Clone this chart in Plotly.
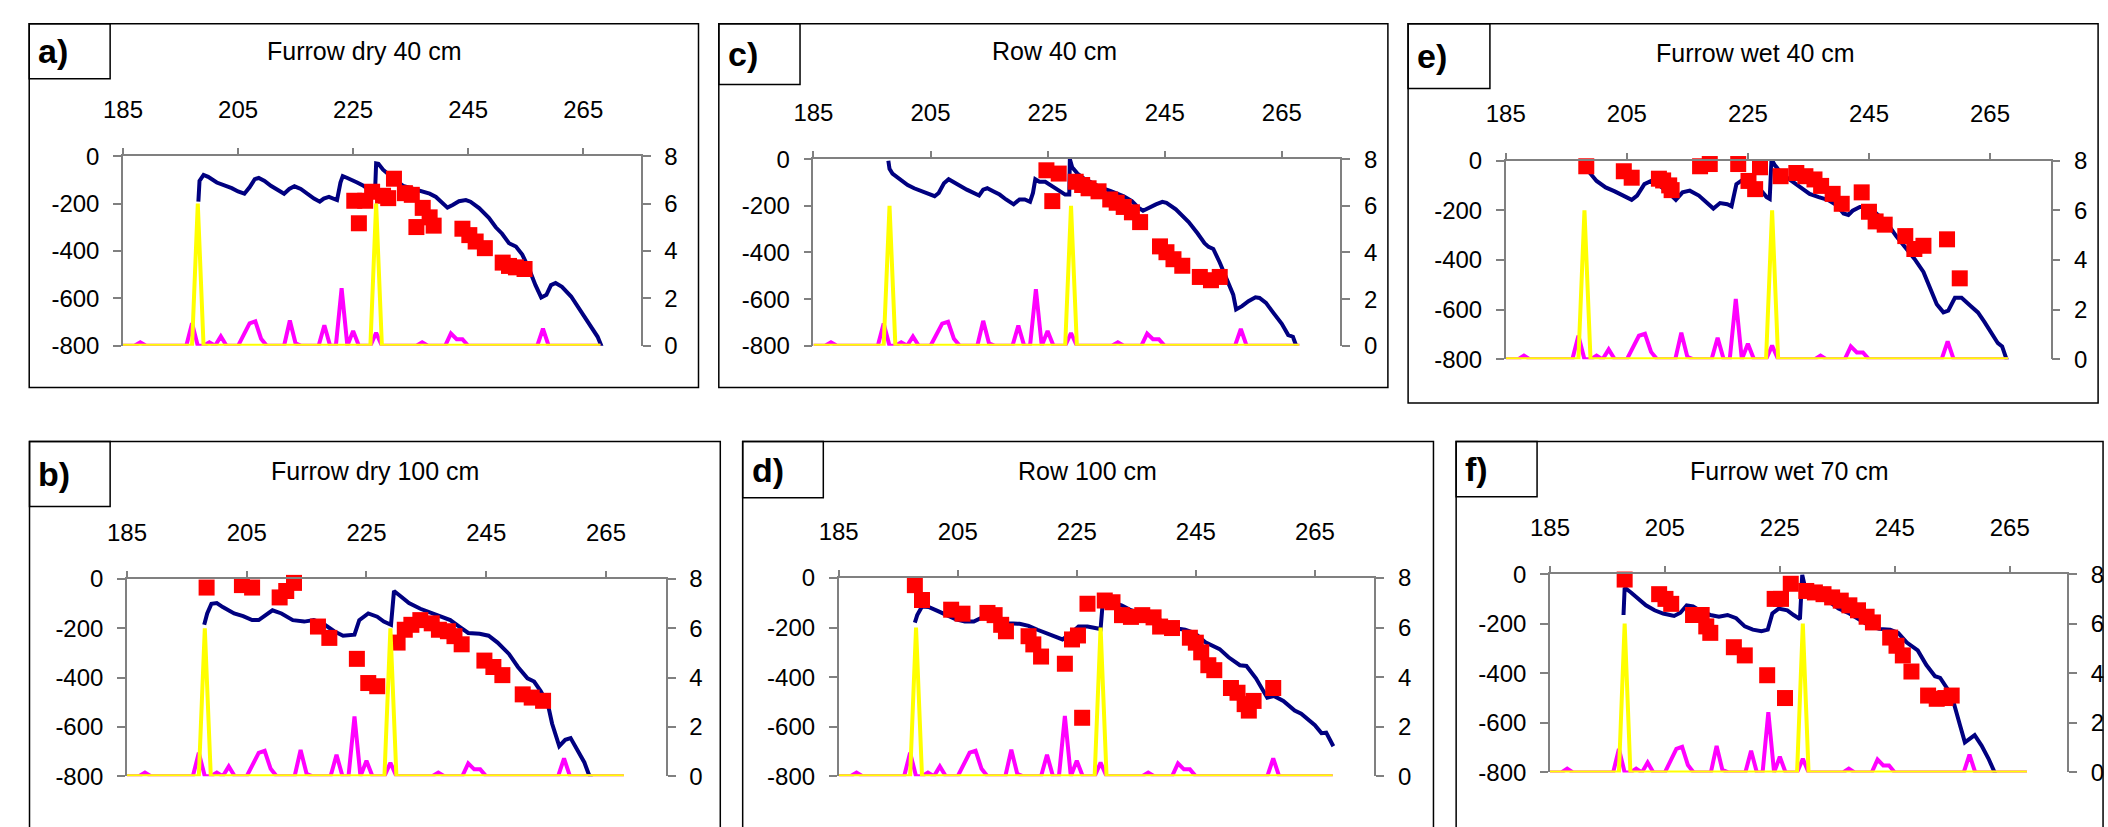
import plotly.graph_objects as go

W, H = 2108, 827

# ---------------- shared weather series (right axis, 0-8) ----------------
rain_day = [185, 187, 188, 189, 196, 197, 198, 199, 200, 201, 202, 203, 205, 206, 207, 208, 209, 210,
            213, 214, 215, 216, 219, 220, 221, 222, 223, 224, 225, 226, 228, 229, 230, 236, 237, 238,
            241, 242, 243, 244, 245, 257, 258, 259, 268]
rain_val = [0, 0, 0.15, 0, 0, 0.95, 0, 0, 0.15, 0, 0.4, 0, 0, 0.5, 0.95, 1.03, 0.3, 0,
            0, 1.07, 0.1, 0, 0, 0.87, 0, 0, 2.43, 0, 0.63, 0, 0, 0.55, 0, 0, 0.15, 0,
            0, 0.52, 0.28, 0.28, 0, 0, 0.72, 0, 0]
irr_day = [185, 197, 198, 199, 228, 229, 230, 268]
irr_val = [0, 0, 6, 0, 0, 6, 0, 0]

x_ticks = [185, 205, 225, 245, 265]
left_ticks = [-800, -600, -400, -200, 0]
left_tick_text = ["-800", "-600", "-400", "-200", "0"]
right_ticks = [0, 2, 4, 6, 8]

# ---------------- panel a: Furrow dry 40 cm ----------------
a_line_day = [198.1, 198.3, 199.0, 199.8, 201.3, 202.1, 203.9, 205.0, 206.1, 207.0, 207.9, 208.6, 209.6,
              210.7, 211.9, 213.0, 213.9, 214.8, 215.9, 217.0, 218.2, 219.2, 219.9, 220.8, 221.6, 222.2,
              222.8, 223.2, 223.9, 224.8, 225.7, 226.8, 227.9, 228.8, 229.0, 229.4, 230.2, 231.4, 232.5,
              233.7, 235.4, 237.1, 238.3, 239.4, 240.6, 241.4, 242.3, 243.4, 244.6, 245.4, 246.9, 248.6,
              249.8, 250.9, 252.1, 253.3, 254.4, 255.6, 256.7, 257.7, 258.6, 259.4, 260.2, 261.3, 262.9,
              264.0, 265.6, 266.7, 267.5, 268.2]
a_line_val = [-192, -104, -79, -87, -111, -118, -135, -149, -158, -131, -97, -92, -104,
              -125, -141, -158, -138, -127, -138, -158, -179, -192, -179, -172, -179, -185,
              -111, -84, -91, -100, -111, -125, -145, -158, -30, -32, -57, -84, -104,
              -125, -138, -149, -158, -172, -199, -217, -206, -190, -185, -192, -219, -260,
              -300, -327, -367, -381, -415, -476, -544, -596, -585, -544, -535, -551, -592,
              -633, -687, -728, -762, -803]
a_obs_day = [225.2, 226.0, 227.1, 228.3, 230.2, 231.1, 232.1, 234.0, 235.2, 237.1, 238.3, 236.0, 239.0,
             244.0, 245.2, 246.3, 247.9, 251.0, 252.1, 253.3, 254.8]
a_obs_val = [-188, -283, -188, -150, -167, -177, -95, -156, -163, -218, -258, -299, -293,
             -306, -333, -360, -388, -449, -463, -469, -476]

# ---------------- panel c: Row 40 cm ----------------
c_line_day = [197.8, 198.0, 198.5, 199.9, 201.1, 202.2, 203.6, 204.7, 205.7, 206.4, 207.3, 208.1, 209.0,
              210.1, 211.2, 212.6, 213.3, 214.0, 214.7, 215.7, 216.8, 217.9, 219.2, 220.2, 221.1, 222.0,
              222.5, 222.9, 223.6, 224.6, 225.8, 227.0, 228.0, 228.7, 228.8, 229.2, 230.1, 231.2, 232.6,
              234.3, 235.7, 236.8, 238.0, 239.4, 240.5, 241.3, 242.2, 243.5, 244.6, 245.3, 246.9, 249.1,
              250.6, 251.8, 252.5, 253.3, 254.4, 255.5, 256.7, 257.2, 258.2, 259.3, 260.5, 261.2, 262.3,
              263.5, 265.0, 266.1, 266.9, 267.5, 268.0]
c_line_val = [-7, -42, -62, -90, -111, -125, -138, -149, -159, -145, -104, -86, -97,
              -115, -131, -149, -156, -131, -125, -138, -152, -173, -194, -173, -173, -183,
              -145, -86, -97, -97, -118, -138, -152, -152, 0, -35, -62, -83, -104,
              -125, -136, -145, -159, -180, -208, -221, -208, -194, -183, -187, -215, -270,
              -318, -360, -376, -385, -443, -512, -581, -644, -630, -609, -592, -595, -616,
              -657, -706, -754, -761, -803, -830]
c_obs_day = [224.8, 226.9, 225.8, 229.8, 230.9, 232.0, 233.7, 235.7, 236.8, 238.0, 239.4, 240.8,
             244.2, 245.3, 246.5, 248.0, 251.0, 252.9, 254.4]
c_obs_val = [-48, -62, -180, -97, -111, -125, -138, -173, -187, -205, -228, -270,
             -374, -399, -429, -457, -505, -519, -505]

# ---------------- panel e: Furrow wet 40 cm ----------------
e_line_day = [197.9, 198.9, 200.0, 201.5, 203.0, 204.5, 205.8, 206.7, 207.9, 209.0, 210.5, 212.0, 213.1,
              214.2, 215.4, 216.9, 218.0, 219.3, 220.4, 221.6, 222.3, 223.1, 224.0, 225.5, 227.0, 228.1,
              228.6, 228.9, 229.4, 230.7, 232.2, 233.7, 235.2, 236.7, 238.2, 239.7, 240.8, 241.6, 242.3,
              243.5, 245.0, 246.5, 248.0, 249.5, 251.0, 252.5, 254.0, 255.1, 256.2, 257.3, 258.1, 259.2,
              260.3, 261.8, 263.0, 264.1, 265.2, 266.3, 267.0, 267.8, 268.2]
e_line_val = [5, -50, -82, -108, -124, -141, -158, -141, -95, -82, -102, -132, -158,
              -128, -121, -141, -167, -193, -171, -176, -184, -95, -80, -89, -115, -147,
              -154, 5, -17, -56, -82, -108, -134, -147, -158, -180, -213, -219, -202,
              -187, -187, -219, -252, -304, -350, -395, -448, -513, -578, -611, -604, -552,
              -552, -585, -611, -650, -689, -735, -748, -800, -833]
e_obs_day = [198.3, 204.5, 205.8, 210.3, 212.4, 217.1, 218.7, 223.4, 225.1, 226.2, 227.0, 230.4, 233.0,
             234.5, 236.0, 237.1, 239.0, 240.5, 243.8, 245.0, 246.1, 247.6, 251.0, 252.5, 254.0, 257.9,
             260.0, 211.0, 212.0]
e_obs_val = [-23, -43, -69, -73, -119, -23, -14, -14, -82, -115, -27, -63, -50,
             -63, -76, -102, -134, -174, -128, -206, -245, -258, -304, -356, -343, -317,
             -474, -80, -100]

# ---------------- panel b: Furrow dry 100 cm ----------------
b_line_day = [197.9, 198.4, 199.1, 200.0, 201.0, 202.9, 204.4, 205.9, 207.0, 208.2, 209.3, 210.8, 212.7,
              214.6, 216.2, 217.7, 219.6, 221.1, 223.0, 223.8, 225.3, 226.8, 227.9, 229.1, 229.6, 230.6,
              232.1, 234.0, 235.9, 237.4, 239.0, 240.5, 242.0, 243.9, 245.4, 246.9, 248.8, 250.3, 251.9,
              253.0, 254.1, 255.3, 256.0, 257.2, 258.2, 259.1, 260.2, 261.4, 262.1, 263.0]
b_line_val = [-186, -140, -101, -98, -114, -140, -151, -167, -167, -147, -127, -140, -167,
              -173, -167, -180, -212, -230, -226, -167, -140, -153, -173, -186, -49, -68,
              -98, -121, -140, -153, -167, -193, -219, -222, -230, -258, -304, -357, -403,
              -416, -455, -508, -586, -678, -652, -645, -691, -744, -790, -822]
b_obs_day = [198.3, 204.2, 205.9, 210.5, 211.6, 212.9, 216.9, 218.8, 223.4, 225.3, 226.8, 230.2, 231.4,
             232.5, 234.0, 235.9, 237.1, 238.6, 239.7, 240.9, 244.7, 246.2, 247.7, 251.1, 252.6, 254.5]
b_obs_val = [-35, -25, -35, -75, -49, -16, -193, -239, -324, -422, -435, -258, -206,
             -186, -167, -180, -206, -212, -232, -265, -331, -357, -390, -468, -481, -494]

# ---------------- panel d: Row 100 cm ----------------
d_line_day = [197.8, 198.2, 199.0, 200.1, 201.6, 203.2, 204.7, 206.2, 207.7, 209.3, 210.4, 211.9, 213.5,
              215.4, 216.9, 218.4, 220.0, 221.5, 222.6, 223.8, 225.3, 226.8, 228.4, 229.0, 229.3, 229.7,
              231.0, 232.6, 234.1, 236.0, 237.9, 239.4, 241.3, 243.2, 244.8, 246.7, 249.0, 250.5, 252.4,
              253.5, 255.1, 257.0, 258.1, 259.7, 261.6, 262.7, 263.9, 265.0, 266.1, 266.9, 268.1]
d_line_val = [-180, -150, -115, -117, -133, -150, -167, -176, -176, -157, -150, -167, -183,
              -185, -193, -209, -224, -238, -248, -228, -196, -196, -202, -206, -117, -91,
              -98, -111, -130, -144, -157, -176, -202, -209, -222, -261, -287, -320, -352,
              -355, -405, -483, -476, -496, -535, -548, -574, -594, -626, -624, -679]
d_obs_day = [197.8, 199.0, 203.9, 205.8, 210.0, 211.2, 212.3, 213.1, 216.9, 217.7, 219.0, 223.0, 224.2,
             225.2, 225.9, 226.8, 229.7, 231.0, 232.6, 234.1, 236.0, 237.9, 239.0, 241.0, 244.0, 245.0,
             245.9, 247.1, 248.1, 250.9, 252.0, 253.2, 253.9, 254.7, 258.0]
d_obs_val = [-29, -89, -128, -144, -141, -150, -189, -215, -235, -268, -317, -346, -248,
             -232, -564, -104, -91, -98, -150, -157, -150, -159, -196, -202, -241, -261,
             -300, -352, -372, -444, -463, -509, -535, -496, -444]

# ---------------- panel f: Furrow wet 70 cm ----------------
f_line_day = [197.8, 198.0, 199.1, 200.3, 201.7, 203.2, 204.7, 206.6, 207.7, 208.8, 209.9, 211.4, 212.9,
              214.4, 215.9, 217.4, 218.9, 220.3, 221.8, 222.9, 223.7, 224.8, 226.3, 227.4, 228.5, 228.9,
              229.4, 230.8, 232.2, 233.7, 235.2, 237.1, 238.9, 240.8, 242.3, 244.2, 245.6, 247.1, 249.0,
              250.5, 252.0, 252.9, 254.2, 255.3, 256.4, 257.2, 258.9, 260.1, 261.3, 262.0, 262.8]
f_line_val = [-165, -55, -74, -96, -126, -146, -159, -169, -156, -126, -130, -152, -165,
              -172, -165, -178, -211, -224, -230, -224, -159, -139, -146, -165, -182, -3,
              -55, -81, -100, -113, -139, -159, -185, -211, -221, -224, -237, -276, -308,
              -367, -412, -419, -464, -523, -614, -679, -650, -692, -744, -783, -822]
f_obs_day = [198.0, 204.0, 205.1, 206.1, 209.9, 211.4, 212.2, 212.9, 217.0, 218.9, 222.8, 224.1, 225.2,
             225.9, 226.9, 229.6, 231.1, 232.6, 234.1, 235.6, 237.1, 238.6, 240.1, 241.2, 244.2, 245.3,
             246.4, 247.9, 250.8, 252.3, 253.8, 254.9]
f_obs_val = [-22, -81, -100, -120, -165, -165, -211, -237, -295, -328, -408, -100, -100,
             -500, -39, -68, -74, -81, -94, -107, -126, -146, -172, -195, -256, -289,
             -328, -393, -490, -503, -500, -490]

panel_labels = ["a)", "c)", "e)", "b)", "d)", "f)"]
panel_titles = ["Furrow dry 40 cm", "Row 40 cm", "Furrow wet 40 cm",
                "Furrow dry 100 cm", "Row 100 cm", "Furrow wet 70 cm"]
panel_lines = [(a_line_day, a_line_val), (c_line_day, c_line_val), (e_line_day, e_line_val),
               (b_line_day, b_line_val), (d_line_day, d_line_val), (f_line_day, f_line_val)]
panel_obs = [(a_obs_day, a_obs_val), (c_obs_day, c_obs_val), (e_obs_day, e_obs_val),
             (b_obs_day, b_obs_val), (d_obs_day, d_obs_val), (f_obs_day, f_obs_val)]

# ---------------- geometry (pixels) ----------------
geom = [
    dict(box=(9.3, 10, 685, 386), lab=(91, 67), title=(347, 38), plot=(104, 626.7, 147, 343)),
    dict(box=(705.5, 10, 1381, 386), lab=(787.5, 73), title=(1044, 38), plot=(801, 1333, 150, 343)),
    dict(box=(1401.4, 10, 2098, 402), lab=(1484, 77), title=(1752, 40), plot=(1500, 2050, 151.5, 357)),
    dict(box=(9.6, 442, 707, 845), lab=(91, 509), title=(358, 472), plot=(108, 652, 584, 788)),
    dict(box=(729.6, 442, 1427, 845), lab=(811, 500), title=(1078, 472), plot=(826.5, 1367.4, 583, 788)),
    dict(box=(1449.9, 442, 2103, 845), lab=(1531.6, 499), title=(1786.7, 472), plot=(1544.6, 2066.8, 579, 784)),
]

FONT = "Liberation Sans, Arial, sans-serif"
AXC = "#808080"


def px(x):
    return x / W


def py(y):
    return 1 - y / H


fig = go.Figure()
layout = dict(width=W, height=H, margin=dict(l=0, r=0, t=0, b=0),
              paper_bgcolor="white", plot_bgcolor="rgba(0,0,0,0)", showlegend=False,
              font=dict(family=FONT, color="black"))
shapes = []
annotations = []

for i in range(6):
    g = geom[i]
    xn = "x" if i == 0 else f"x{i + 1}"
    yl = "y" if i == 0 else f"y{2 * i + 1}"
    yr = f"y{2 * i + 2}"
    xkey = "xaxis" if i == 0 else f"xaxis{i + 1}"
    ylkey = "yaxis" if i == 0 else f"yaxis{2 * i + 1}"
    yrkey = f"yaxis{2 * i + 2}"
    xin_key = f"xaxis{7 + i}"
    yin_key = f"yaxis{13 + i}"

    ld, lv = panel_lines[i]
    od, ov = panel_obs[i]
    fig.add_trace(go.Scatter(x=ld, y=lv, mode="lines", line=dict(color="#000080", width=4),
                             xaxis=xn, yaxis=yl, cliponaxis=False, hoverinfo="skip"))
    fig.add_trace(go.Scatter(x=od, y=ov, mode="markers",
                             marker=dict(symbol="square", size=16, color="#FF0000", line=dict(width=0)),
                             xaxis=xn, yaxis=yl, cliponaxis=False, hoverinfo="skip"))
    fig.add_trace(go.Scatter(x=rain_day, y=rain_val, mode="lines", line=dict(color="#FF00FF", width=4),
                             xaxis=xn, yaxis=yr, cliponaxis=False, hoverinfo="skip"))
    fig.add_trace(go.Scatter(x=irr_day, y=irr_val, mode="lines", line=dict(color="#FFFF00", width=4),
                             xaxis=xn, yaxis=yr, cliponaxis=False, hoverinfo="skip"))

    x0, x1, yt, yb = g["plot"]
    dom_x = [px(x0), px(x1)]
    dom_y = [py(yb), py(yt)]
    tickfont = dict(family=FONT, size=24, color="black")
    layout[xkey] = dict(domain=dom_x, range=[185, 275], side="top", anchor=yl,
                        tickvals=x_ticks, showline=True, linecolor=AXC, linewidth=1.5,
                        ticks="outside", ticklen=6, tickcolor=AXC, tickwidth=1.5,
                        showgrid=False, zeroline=False, tickfont=tickfont,
                        ticklabelstandoff=21, fixedrange=True)
    layout[ylkey] = dict(domain=dom_y, range=[-800, 0], anchor=xn,
                         tickvals=left_ticks, ticktext=left_tick_text, showline=True,
                         linecolor=AXC, linewidth=1.5,
                         ticks="outside", ticklen=8, tickcolor=AXC, tickwidth=1.5,
                         showgrid=False, zeroline=False, tickfont=tickfont,
                         ticklabelstandoff=9, fixedrange=True)
    layout[yrkey] = dict(domain=dom_y, range=[0, 8], anchor=xn, overlaying=yl,
                         side="right", tickvals=right_ticks, showline=True, linecolor=AXC,
                         linewidth=1.5, ticks="outside", ticklen=8, tickcolor=AXC, tickwidth=1.5,
                         showgrid=False, zeroline=False, tickfont=tickfont,
                         ticklabelstandoff=9, fixedrange=True)
    layout[xin_key] = dict(domain=dom_x, range=[185, 275], side="top", anchor=yl, overlaying=xn,
                           tickvals=x_ticks, showticklabels=False, showline=False,
                           ticks="inside", ticklen=7, tickcolor=AXC, tickwidth=1.5,
                           showgrid=False, zeroline=False, fixedrange=True)
    layout[yin_key] = dict(domain=dom_y, range=[0, 8], anchor=xn, overlaying=yl, side="right",
                           tickvals=right_ticks, showticklabels=False, showline=False,
                           ticks="inside", ticklen=8, tickcolor=AXC, tickwidth=1.5,
                           showgrid=False, zeroline=False, fixedrange=True)

    bx0, by0, bx1, by1 = g["box"]
    shapes.append(dict(type="rect", xref="paper", yref="paper", x0=px(bx0), x1=px(bx1),
                       y0=py(by1), y1=py(by0), line=dict(color="black", width=1.5),
                       fillcolor="rgba(0,0,0,0)", layer="below"))
    lx, ly = g["lab"]
    shapes.append(dict(type="rect", xref="paper", yref="paper", x0=px(bx0), x1=px(lx),
                       y0=py(ly), y1=py(by0), line=dict(color="black", width=1.5),
                       fillcolor="rgba(0,0,0,0)", layer="below"))
    annotations.append(dict(text=f"<b>{panel_labels[i]}</b>", xref="paper", yref="paper",
                            x=px(bx0 + 7), y=py((by0 + ly) / 2), xanchor="left", yanchor="middle",
                            showarrow=False, font=dict(family=FONT, size=34, color="black")))
    tx, ty = g["title"]
    annotations.append(dict(text=panel_titles[i], xref="paper", yref="paper", x=px(tx), y=py(ty),
                            xanchor="center", yanchor="middle", showarrow=False,
                            font=dict(family=FONT, size=25, color="black")))

layout["shapes"] = shapes
layout["annotations"] = annotations
fig.update_layout(**layout)
fig.write_html("out.html", config={"displayModeBar": False},
               post_script="document.body.style.margin='0px';document.body.style.overflow='hidden';")
